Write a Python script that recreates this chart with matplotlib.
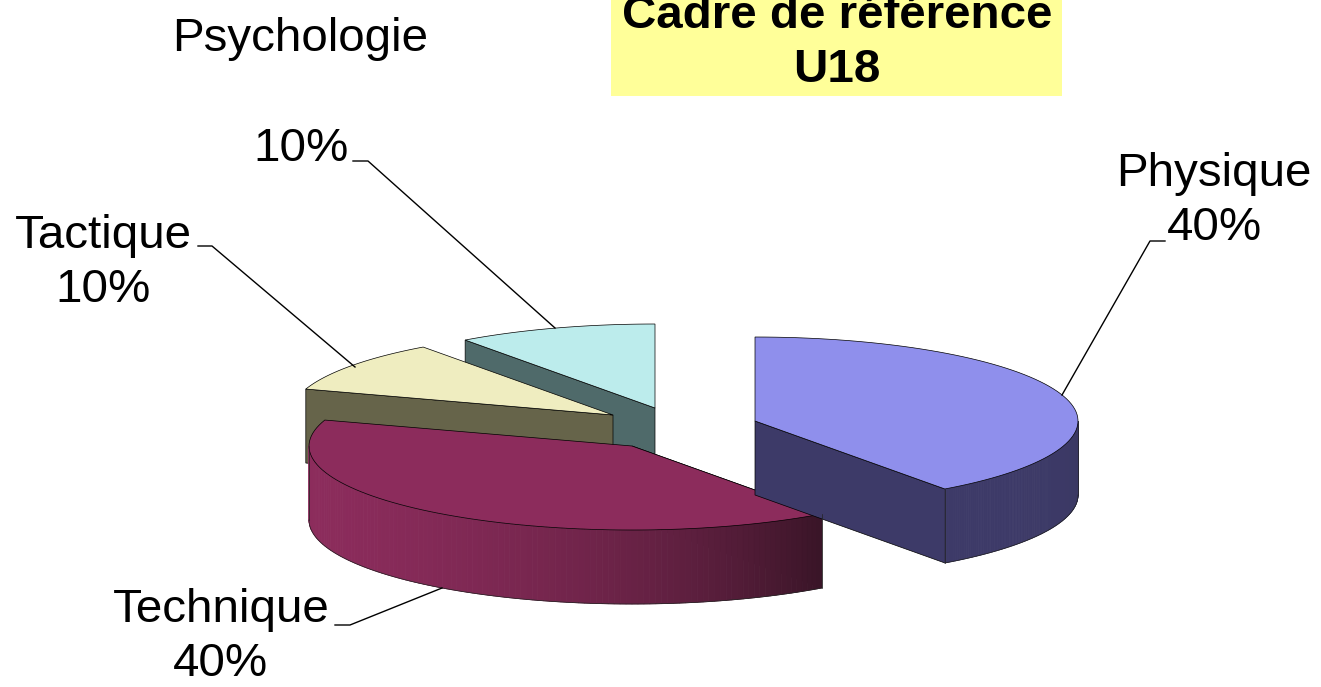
import matplotlib.pyplot as plt
from matplotlib.colors import to_rgb
from matplotlib.patches import Polygon, Rectangle
import numpy as np

plt.rcParams['font.family'] = ['Liberation Sans', 'DejaVu Sans']

labels = ['Psychologie', 'Tactique', 'Technique', 'Physique']
values = [10, 10, 40, 40]
top_colors = ['#bcecec', '#efedc0', '#8c2c5c', '#8f8fec']
side_colors = ['#4f6a6a', '#66644a', '#8c2c5c', '#3d3a68']
end_colors = ['#4f6a6a', '#66644a', '#3a1528', '#3a3862']

# exploded slices, centre of each one in pixels
centers = {'Psychologie': (655, 408), 'Tactique': (613, 415),
           'Technique': (632, 446), 'Physique': (755, 421)}
rx = 323
ry = 84
depth = 74
start_angle = 90

fig = plt.figure(figsize=(13.21, 6.87), dpi=100)
ax = fig.add_axes([0, 0, 1, 1])
ax.set_xlim(0, 1321)
ax.set_ylim(687, 0)
ax.axis('off')


def arc_points(c, a0, a1, n=80):
    t = np.radians(np.linspace(a0, a1, n))
    return np.column_stack([c[0] + rx * np.cos(t), c[1] - ry * np.sin(t)])


def draw_slice(name, a0, a1, top, side, end):
    c = centers[name]
    arc = arc_points(c, a0, a1)
    down = np.array([0, depth])
    # flat wall along the radius that faces the viewer
    if name == 'Physique':
        edge = np.array([c, arc[0]])
    else:
        edge = np.array([c, arc[-1]])
    ax.add_patch(Polygon(np.vstack([edge, edge[::-1] + down]), fc=side if name != 'Technique' else end,
                         ec='black', lw=0.5))
    # curved wall, only the front half can be seen
    lo = max(a0, 180)
    hi = min(a1, 360)
    if lo < hi:
        wall = arc_points(c, lo, hi, 120)
        c0 = np.array(to_rgb(side))
        c1 = np.array(to_rgb(end))
        for i in range(len(wall) - 1):
            f = (i / (len(wall) - 2)) ** 2.5
            q = np.array([wall[i], wall[i + 1], wall[i + 1] + down, wall[i] + down])
            col = c0 + (c1 - c0) * f
            ax.add_patch(Polygon(q, fc=col, ec=col, lw=0.6))
        ax.plot(wall[:, 0], wall[:, 1] + depth, color='#222222', lw=0.5)
        ax.plot([wall[0, 0]] * 2, [wall[0, 1], wall[0, 1] + depth], color='#222222', lw=0.5)
        ax.plot([wall[-1, 0]] * 2, [wall[-1, 1], wall[-1, 1] + depth], color='#222222', lw=0.5)
    ax.add_patch(Polygon(np.vstack([c, arc]), fc=top, ec='black', lw=0.5))


a = start_angle
for i in range(len(labels)):
    sweep = 360 * values[i] / sum(values)
    draw_slice(labels[i], a, a + sweep, top_colors[i], side_colors[i], end_colors[i])
    a += sweep

# leader lines
ax.plot([1062, 1150, 1165], [395, 241, 241], color='black', lw=1)
ax.plot([442, 350, 335], [588, 625, 625], color='black', lw=1)
ax.plot([355, 212, 198], [367, 246, 246], color='black', lw=1)
ax.plot([555, 368, 353], [328, 161, 161], color='black', lw=1)

fs = 34.2
ls = 1.27
ax.text(1214, 201, 'Physique\n%d%%' % values[3], fontsize=fs, ha='center', va='center', linespacing=ls)
ax.text(221, 637, 'Technique\n%d%%' % values[2], fontsize=fs, ha='center', va='center', linespacing=ls)
ax.text(103, 263, 'Tactique\n%d%%' % values[1], fontsize=fs, ha='center', va='center', linespacing=ls)
ax.text(301, 149, '%d%%' % values[0], fontsize=fs, ha='center', va='center')
ax.text(300, 39, 'Psychologie', fontsize=fs, ha='center', va='center')

# title box runs off the top of the picture
ax.add_patch(Rectangle((611, -10), 451, 106, fc='#ffff99', ec='none'))
ax.text(837, 43, 'Cadre de référence\nU18', fontsize=fs, fontweight='bold', ha='center', va='center',
        linespacing=ls)

fig.savefig('out.png', dpi=100)
